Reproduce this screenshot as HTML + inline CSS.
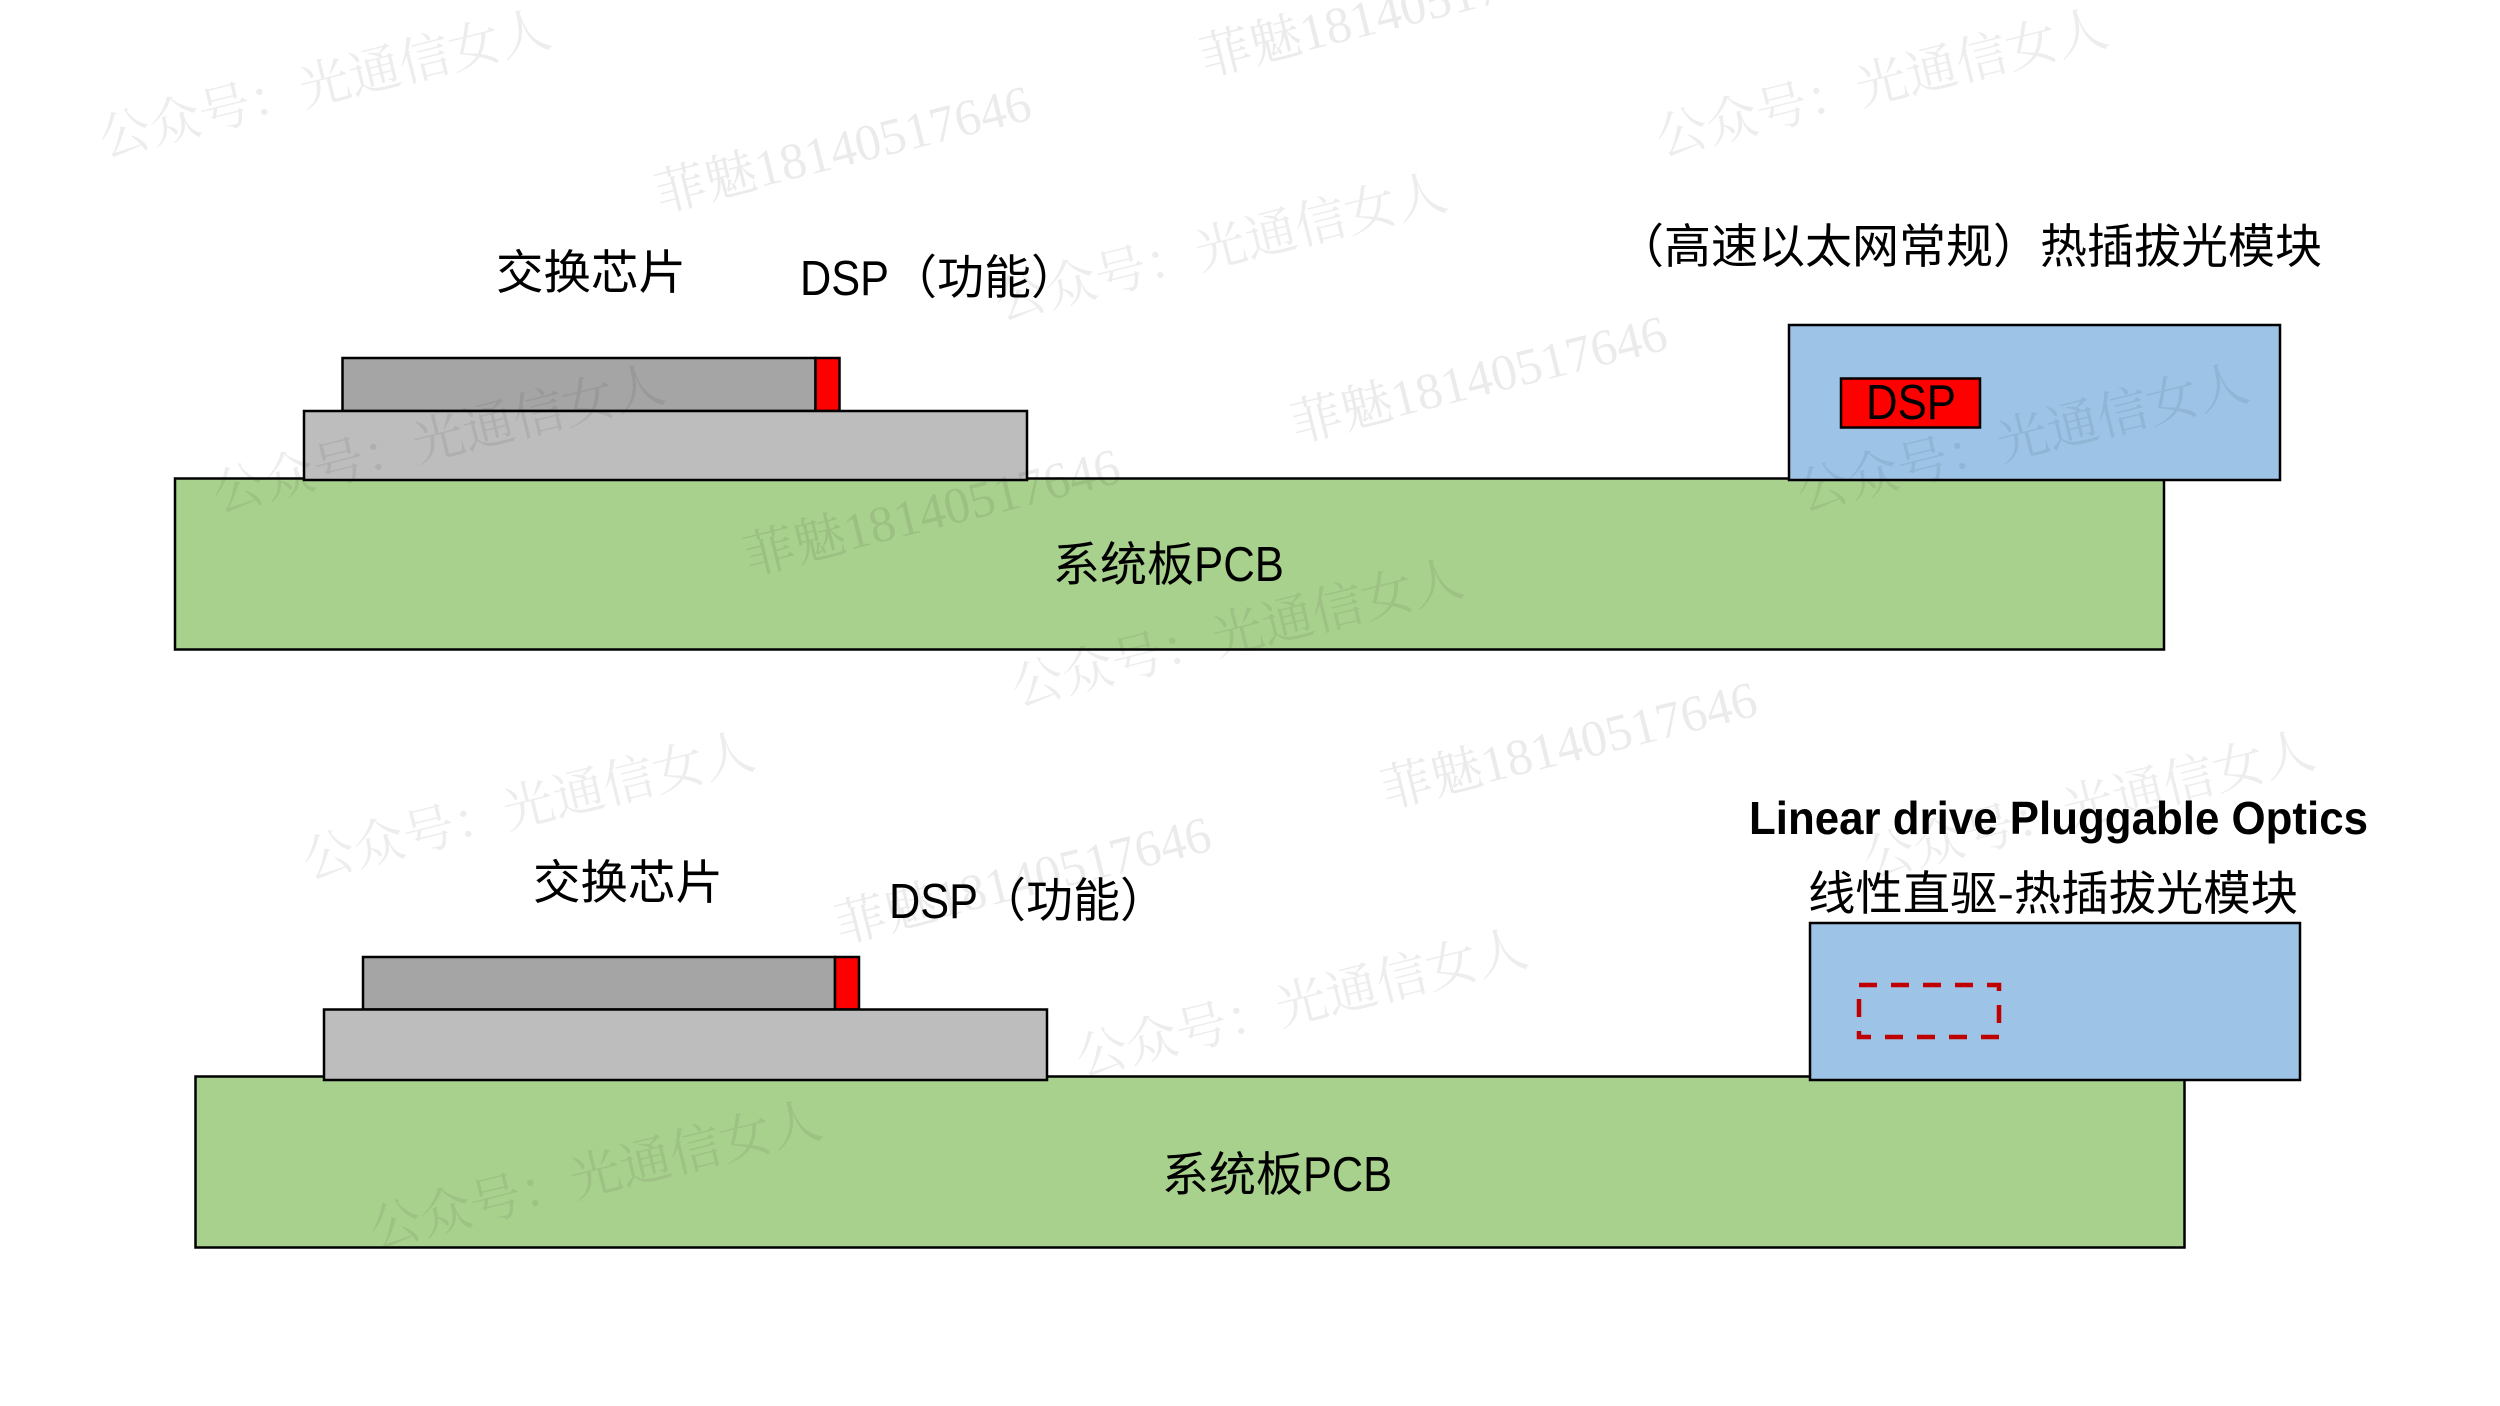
<!DOCTYPE html>
<html><head><meta charset="utf-8"><style>
html,body{margin:0;padding:0;background:#fff}
svg{display:block}
.t{font-family:"Liberation Sans","Noto Sans CJK SC",sans-serif;font-size:49px;fill:#000}
.c{font-family:"Noto Sans CJK SC","Liberation Sans",sans-serif;font-size:47px;fill:#000}
.a{font-family:"Noto Serif CJK SC","Liberation Serif",serif;font-size:51.500px;fill:#000;fill-opacity:.07}
.b{font-family:"Liberation Serif","Noto Serif CJK SC",serif;font-size:51.400px;fill:#000;fill-opacity:.08}
rect{stroke:#000;stroke-width:2.5}
</style></head><body>
<svg xmlns="http://www.w3.org/2000/svg" width="2500" height="1406" viewBox="0 0 2500 1406">

<!-- top -->
<rect x="175" y="478.500" width="1989" height="171" fill="#a9d18e"/>
<rect x="342.500" y="358" width="473" height="53" fill="#a5a5a5"/>
<rect x="815.500" y="358" width="24" height="53" fill="#ff0000"/>
<rect x="304" y="411" width="723" height="69" fill="#bdbdbd"/>
<rect x="1789" y="325" width="491" height="155" fill="#9dc3e6"/>
<rect x="1841" y="378.500" width="139" height="49" fill="#ff0000"/>

<!-- bottom -->
<rect x="195.500" y="1076.500" width="1989" height="171" fill="#a9d18e"/>
<rect x="363" y="957" width="472" height="52.500" fill="#a5a5a5"/>
<rect x="835" y="957" width="24" height="52.500" fill="#ff0000"/>
<rect x="324" y="1009.500" width="723" height="70.500" fill="#bdbdbd"/>
<rect x="1810" y="923" width="490" height="157" fill="#9dc3e6"/>
<rect x="1859" y="985" width="140" height="52" fill="none" style="stroke:#c00000;stroke-width:4.500;stroke-dasharray:18 14"/>

<!-- labels -->
<text class="c" x="496" y="289" textLength="190" lengthAdjust="spacingAndGlyphs">交换芯片</text>
<text class="t" x="800" y="295" textLength="89" lengthAdjust="spacingAndGlyphs">DSP</text>
<text class="c" x="890" y="294">（功能）</text>
<text class="c" x="1617" y="263">（高速以太网常规）热插拔光模块</text>
<text class="t" x="1866" y="419" textLength="90" lengthAdjust="spacingAndGlyphs">DSP</text>
<text class="c" x="1053" y="581">系统板</text>
<text class="t" x="1194" y="581" textLength="90" lengthAdjust="spacingAndGlyphs">PCB</text>

<text class="c" x="533" y="899" textLength="190" lengthAdjust="spacingAndGlyphs">交换芯片</text>
<text class="t" x="889" y="918" textLength="89" lengthAdjust="spacingAndGlyphs">DSP</text>
<text class="c" x="979" y="917">（功能）</text>
<text class="t" x="1749" y="834" textLength="619" lengthAdjust="spacingAndGlyphs" style="font-weight:700;font-size:46px">Linear drive Pluggable Optics</text>
<text class="c" x="1808" y="910" textLength="490" lengthAdjust="spacingAndGlyphs">线性直驱-热插拔光模块</text>
<text class="c" x="1162" y="1191">系统板</text>
<text class="t" x="1303" y="1191" textLength="89" lengthAdjust="spacingAndGlyphs">PCB</text>

<!-- watermarks -->
<text class="a" transform="translate(104,157) rotate(-14)">公众号：光通信女人</text>
<text class="a" transform="translate(1661,156) rotate(-14)">公众号：光通信女人</text>
<text class="a" transform="translate(1000,320) rotate(-14)">公众号：光通信女人</text>
<text class="a" transform="translate(218,512) rotate(-14)">公众号：光通信女人</text>
<text class="a" transform="translate(1802,511) rotate(-14)">公众号：光通信女人</text>
<text class="a" transform="translate(1017,706) rotate(-14)">公众号：光通信女人</text>
<text class="a" transform="translate(308,879) rotate(-14)">公众号：光通信女人</text>
<text class="a" transform="translate(1868,878) rotate(-14)">公众号：光通信女人</text>
<text class="a" transform="translate(1081,1076) rotate(-14)">公众号：光通信女人</text>
<text class="a" transform="translate(375,1248) rotate(-14)">公众号：光通信女人</text>

<text class="b" transform="translate(660,212) rotate(-14)">菲魅18140517646</text>
<text class="b" transform="translate(1205,76) rotate(-14)">菲魅18140517646</text>
<text class="b" transform="translate(1296,442) rotate(-14)">菲魅18140517646</text>
<text class="b" transform="translate(749,575) rotate(-14)">菲魅18140517646</text>
<text class="b" transform="translate(1386,808) rotate(-14)">菲魅18140517646</text>
<text class="b" transform="translate(840,943) rotate(-14)">菲魅18140517646</text>
</svg>
</body></html>
